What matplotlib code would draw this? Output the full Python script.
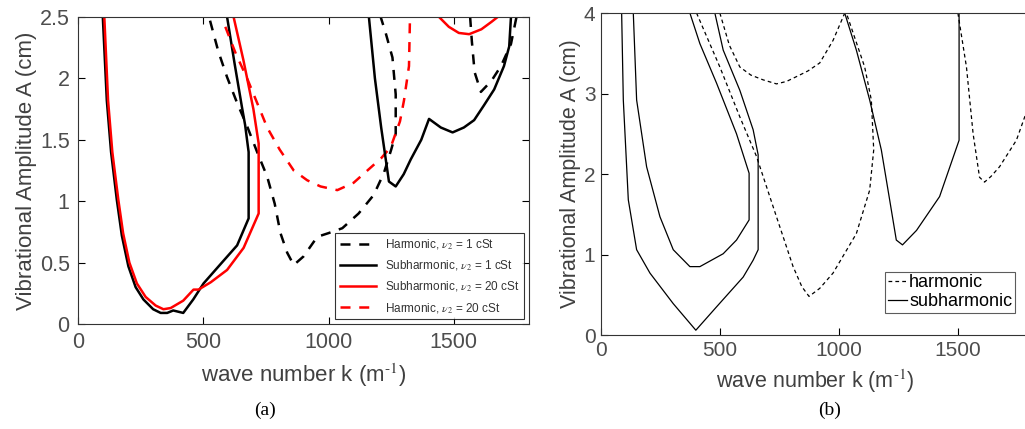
import matplotlib
matplotlib.use('Agg')
import matplotlib.pyplot as plt

# ---- (a) viscosity comparison, nu2 = 1 cSt and 20 cSt ----
# subharmonic, nu2 = 1 cSt (first tongue, then second tongue)
sub1_k = [99, 115, 132, 155, 175, 201, 230, 261, 300, 330, 356, 380, 400, 420, 460, 501, 570, 635, 681, 681, 667, 654, 625, 595]
sub1_A = [2.5, 1.82, 1.4, 1.01, 0.72, 0.47, 0.3, 0.2, 0.12, 0.09, 0.09, 0.11, 0.1, 0.09, 0.2, 0.33, 0.49, 0.64, 0.86, 1.40, 1.62, 1.77, 2.12, 2.5]
sub1b_k = [1161, 1185, 1210, 1241, 1268, 1300, 1328, 1370, 1401, 1448, 1495, 1540, 1581, 1620, 1661, 1700, 1721, 1728]
sub1b_A = [2.5, 2.0, 1.6, 1.16, 1.12, 1.22, 1.34, 1.5, 1.67, 1.60, 1.56, 1.6, 1.66, 1.78, 1.91, 2.1, 2.26, 2.5]

# subharmonic, nu2 = 20 cSt
sub20_k = [105, 120, 137, 161, 180, 205, 235, 270, 310, 341, 370, 420, 461, 481, 530, 595, 661, 721, 721, 700, 660, 621]
sub20_A = [2.5, 1.82, 1.4, 1.01, 0.74, 0.5, 0.33, 0.22, 0.15, 0.12, 0.13, 0.19, 0.28, 0.28, 0.34, 0.44, 0.62, 0.90, 1.47, 1.75, 2.15, 2.5]
sub20b_k = [1441, 1480, 1520, 1561, 1610, 1650, 1675]
sub20b_A = [2.5, 2.42, 2.37, 2.36, 2.4, 2.46, 2.5]

# harmonic, nu2 = 1 cSt
har1_k = [527, 560, 595, 635, 675, 715, 755, 785, 808, 835, 861, 900, 955, 1000, 1055, 1120, 1180, 1221, 1250, 1268, 1268, 1255, 1228, 1208]
har1_A = [2.47, 2.22, 2.01, 1.8, 1.61, 1.4, 1.2, 0.98, 0.74, 0.58, 0.48, 0.55, 0.71, 0.74, 0.78, 0.9, 1.05, 1.23, 1.42, 1.55, 1.87, 2.17, 2.37, 2.5]
har1b_k = [1565, 1572, 1583, 1608, 1650, 1688, 1728, 1750]
har1b_A = [2.5, 2.3, 2.05, 1.89, 1.98, 2.1, 2.28, 2.5]

# harmonic, nu2 = 20 cSt
har20_k = [588, 630, 675, 715, 755, 805, 861, 915, 968, 1035, 1100, 1155, 1210, 1248, 1285, 1301, 1321, 1325]
har20_A = [2.42, 2.2, 2.0, 1.8, 1.6, 1.42, 1.25, 1.17, 1.12, 1.09, 1.15, 1.25, 1.35, 1.44, 1.65, 1.82, 2.1, 2.5]

# ---- (b) harmonic / subharmonic tongues ----
tb1_k = [87, 94, 115, 150, 206, 304, 399, 486, 598, 640, 661, 661, 640, 584, 514, 479]
tb1_A = [4.0, 2.92, 1.68, 1.06, 0.77, 0.39, 0.06, 0.35, 0.72, 0.93, 1.06, 2.24, 2.55, 3.04, 3.54, 4.0]
tb2_k = [136, 150, 192, 248, 304, 374, 416, 514, 570, 623, 623, 570, 486, 416, 374]
tb2_A = [4.0, 2.92, 2.09, 1.47, 1.06, 0.85, 0.85, 1.01, 1.18, 1.43, 2.01, 2.50, 3.13, 3.62, 4.0]
tb3_k = [1025, 1074, 1130, 1179, 1214, 1242, 1268, 1327, 1424, 1506, 1506]
tb3_A = [4.0, 3.54, 2.92, 2.30, 1.68, 1.18, 1.12, 1.30, 1.72, 2.42, 4.0]
hb1_k = [402, 500, 584, 654, 738, 808, 845, 875, 920, 976, 1074, 1130, 1147, 1137, 1109, 1032]
hb1_A = [4.0, 3.33, 2.71, 2.22, 1.47, 0.85, 0.6, 0.48, 0.58, 0.77, 1.26, 1.80, 2.30, 2.92, 3.33, 4.0]
hb2_k = [500, 540, 584, 630, 682, 738, 780, 822, 870, 920, 976, 1018, 1025]
hb2_A = [4.0, 3.6, 3.33, 3.23, 3.17, 3.12, 3.15, 3.21, 3.28, 3.38, 3.66, 3.95, 4.0]
hb3_k = [1501, 1537, 1565, 1592, 1613, 1640, 1676, 1747, 1782, 1800]
hb3_A = [4.0, 3.33, 2.50, 1.96, 1.90, 1.97, 2.09, 2.42, 2.71, 2.82]

plt.rcParams['font.family'] = ['Liberation Sans', 'DejaVu Sans']
plt.rcParams['mathtext.fontset'] = 'stix'
tick_col = '#4d4d4d'
xlab = 'wave number k (m$^{\\text{-1}}$)'

fig = plt.figure(figsize=(10.25, 4.29), dpi=100)

# left panel
ax1 = fig.add_axes([0.0761, 0.2448, 0.440, 0.7156])
ax1.plot(har1_k, har1_A, '--', color='k', lw=1.8, dashes=(4, 3.5), label=r'Harmonic, $\nu_2$ = 1 cSt')
ax1.plot(sub1_k, sub1_A, '-', color='k', lw=1.8, label=r'Subharmonic, $\nu_2$ = 1 cSt')
ax1.plot(sub20_k, sub20_A, '-', color='r', lw=1.8, label=r'Subharmonic, $\nu_2$ = 20 cSt')
ax1.plot(har20_k, har20_A, '--', color='r', lw=1.8, dashes=(4, 3.5), label=r'Harmonic, $\nu_2$ = 20 cSt')
ax1.plot(har1b_k, har1b_A, '--', color='k', lw=1.8, dashes=(4, 3.5))
ax1.plot(sub1b_k, sub1b_A, '-', color='k', lw=1.8)
ax1.plot(sub20b_k, sub20b_A, '-', color='r', lw=1.8)
ax1.set_xlim(0, 1800)
ax1.set_ylim(0, 2.5)
ax1.set_xticks([0, 500, 1000, 1500])
ax1.set_yticks([0, 0.5, 1, 1.5, 2, 2.5])
ax1.set_yticklabels(['0', '0.5', '1', '1.5', '2', '2.5'])
ax1.tick_params(direction='in', top=True, right=True, labelsize=15.5, labelcolor=tick_col, length=5, pad=6)
ax1.set_xlabel(xlab, fontsize=16, color='#404040', labelpad=6)
ax1.set_ylabel('Vibrational Amplitude A (cm)', fontsize=16, color='#404040', labelpad=2)
leg1 = ax1.legend(loc='lower right', fontsize=8.5, frameon=True, fancybox=False, edgecolor='k',
                  handlelength=3, borderaxespad=0.4, labelspacing=0.6)
leg1.get_frame().set_linewidth(0.8)
for t in leg1.get_texts():
    t.set_color('#333333')
for s in ax1.spines.values():
    s.set_color('#333333')

# right panel
ax2 = fig.add_axes([0.5863, 0.219, 0.4176, 0.7506])
ax2.plot(hb1_k, hb1_A, '--', color='k', lw=0.9, dashes=(3, 2.5), label='harmonic')
ax2.plot(tb1_k, tb1_A, '-', color='k', lw=0.9, label='subharmonic')
ax2.plot(tb2_k, tb2_A, '-', color='k', lw=0.9)
ax2.plot(tb3_k, tb3_A, '-', color='k', lw=0.9)
ax2.plot(hb2_k, hb2_A, '--', color='k', lw=0.9, dashes=(3, 2.5))
ax2.plot(hb3_k, hb3_A, '--', color='k', lw=0.9, dashes=(3, 2.5))
ax2.set_xlim(0, 1800)
ax2.set_ylim(0, 4)
ax2.set_xticks([0, 500, 1000, 1500])
ax2.set_yticks([0, 1, 2, 3, 4])
ax2.tick_params(direction='in', labelsize=15, labelcolor=tick_col, length=5, pad=4)
ax2.set_xlabel(xlab, fontsize=15.5, color='#404040', labelpad=6)
ax2.set_ylabel('Vibrational Amplitude A (cm)', fontsize=15.5, color='#404040', labelpad=2)
leg2 = ax2.legend(loc='lower right', bbox_to_anchor=(1015 / 1025, 1 - 313 / 429), bbox_transform=fig.transFigure,
                  fontsize=13, frameon=True, fancybox=False, edgecolor='#333333',
                  handlelength=1.1, handletextpad=0.1, borderpad=0.15, borderaxespad=0, labelspacing=0.1)
leg2.get_frame().set_linewidth(0.8)
ax2.spines['right'].set_visible(False)
for s in ax2.spines.values():
    s.set_color('#333333')

# panel captions
fig.text(265 / 1025, 1 - 410 / 429, '(a)', fontsize=14, family='Liberation Serif', ha='center', va='center')
fig.text(830 / 1025, 1 - 410 / 429, '(b)', fontsize=14, family='Liberation Serif', ha='center', va='center')

fig.savefig('out.png', dpi=100)
